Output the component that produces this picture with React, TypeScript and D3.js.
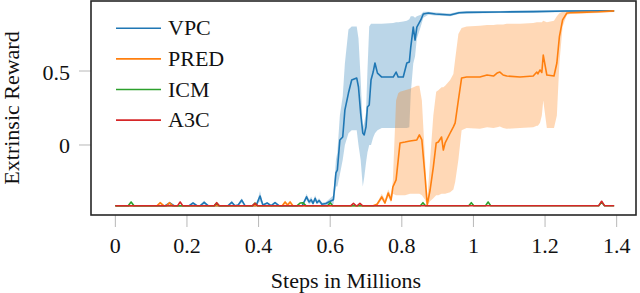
import * as d3 from 'd3';

// columns: step (millions), mean reward, band low, band high
const vpcData: number[][] = [
  [0, -0.41, -0.41, -0.41],
  [0.139, -0.41, -0.41, -0.41],
  [0.152, -0.392, -0.4, -0.385],
  [0.164, -0.41, -0.41, -0.41],
  [0.206, -0.41, -0.41, -0.41],
  [0.217, -0.392, -0.4, -0.385],
  [0.228, -0.41, -0.41, -0.41],
  [0.237, -0.41, -0.41, -0.41],
  [0.248, -0.387, -0.4, -0.375],
  [0.259, -0.41, -0.41, -0.41],
  [0.315, -0.41, -0.41, -0.41],
  [0.325, -0.387, -0.4, -0.375],
  [0.334, -0.41, -0.41, -0.41],
  [0.343, -0.405, -0.41, -0.4],
  [0.353, -0.372, -0.39, -0.36],
  [0.362, -0.41, -0.41, -0.41],
  [0.393, -0.41, -0.41, -0.41],
  [0.404, -0.345, -0.38, -0.31],
  [0.412, -0.405, -0.41, -0.4],
  [0.424, -0.392, -0.4, -0.385],
  [0.435, -0.41, -0.41, -0.41],
  [0.446, -0.39, -0.4, -0.38],
  [0.457, -0.41, -0.41, -0.41],
  [0.522, -0.41, -0.41, -0.41],
  [0.534, -0.35, -0.37, -0.33],
  [0.541, -0.385, -0.4, -0.37],
  [0.547, -0.37, -0.39, -0.35],
  [0.552, -0.395, -0.405, -0.38],
  [0.558, -0.36, -0.38, -0.34],
  [0.563, -0.39, -0.4, -0.375],
  [0.569, -0.375, -0.39, -0.36],
  [0.577, -0.4, -0.41, -0.39],
  [0.588, -0.395, -0.405, -0.385],
  [0.6, -0.38, -0.4, -0.36],
  [0.609, -0.37, -0.4, -0.34],
  [0.616, -0.189, -0.28, -0.1],
  [0.62, -0.169, -0.28, -0.05],
  [0.627, 0.034, -0.2, 0.2],
  [0.635, 0.054, -0.1, 0.33],
  [0.641, 0.236, 0.0, 0.55],
  [0.651, 0.351, 0.08, 0.78],
  [0.66, 0.439, 0.1, 0.8],
  [0.674, 0.453, 0.1, 0.8],
  [0.679, 0.392, 0.0, 0.72],
  [0.685, 0.216, -0.1, 0.45],
  [0.691, 0.081, -0.28, 0.12],
  [0.695, 0.068, -0.22, 0.15],
  [0.7, 0.122, -0.12, 0.22],
  [0.704, 0.257, -0.05, 0.5],
  [0.709, 0.27, 0.0, 0.8],
  [0.714, 0.439, 0.0, 0.82],
  [0.72, 0.493, 0.05, 0.82],
  [0.725, 0.554, 0.08, 0.82],
  [0.732, 0.486, 0.1, 0.82],
  [0.744, 0.459, 0.115, 0.82],
  [0.776, 0.459, 0.115, 0.825],
  [0.784, 0.493, 0.115, 0.83],
  [0.79, 0.459, 0.115, 0.83],
  [0.804, 0.459, 0.115, 0.835],
  [0.814, 0.554, 0.115, 0.84],
  [0.821, 0.561, 0.12, 0.85],
  [0.825, 0.662, 0.35, 0.87],
  [0.832, 0.797, 0.55, 0.87],
  [0.837, 0.709, 0.6, 0.86],
  [0.842, 0.797, 0.72, 0.87],
  [0.853, 0.845, 0.8, 0.88],
  [0.86, 0.885, 0.86, 0.9],
  [0.874, 0.892, 0.88, 0.9],
  [0.894, 0.885, 0.875, 0.895],
  [0.935, 0.878, 0.87, 0.888],
  [0.96, 0.894, 0.885, 0.902],
  [0.981, 0.896, 0.888, 0.904],
  [1.075, 0.899, 0.892, 0.906],
  [1.167, 0.901, 0.894, 0.908],
  [1.26, 0.905, 0.898, 0.911],
  [1.393, 0.906, 0.9, 0.912],
];

const predData: number[][] = [
  [0, -0.41, -0.41, -0.41],
  [0.117, -0.41, -0.41, -0.41],
  [0.125, -0.39, -0.4, -0.38],
  [0.135, -0.41, -0.41, -0.41],
  [0.143, -0.41, -0.41, -0.41],
  [0.151, -0.39, -0.4, -0.38],
  [0.16, -0.41, -0.41, -0.41],
  [0.466, -0.41, -0.41, -0.41],
  [0.474, -0.385, -0.4, -0.375],
  [0.481, -0.405, -0.41, -0.4],
  [0.488, -0.385, -0.4, -0.375],
  [0.496, -0.41, -0.41, -0.41],
  [0.72, -0.41, -0.41, -0.41],
  [0.731, -0.4, -0.41, -0.39],
  [0.744, -0.351, -0.37, -0.33],
  [0.753, -0.392, -0.4, -0.37],
  [0.762, -0.324, -0.35, -0.3],
  [0.77, -0.372, -0.39, -0.34],
  [0.775, -0.284, -0.33, -0.24],
  [0.784, -0.236, -0.34, 0.3],
  [0.79, -0.101, -0.34, 0.35],
  [0.795, 0.014, -0.34, 0.36],
  [0.809, 0.02, -0.34, 0.37],
  [0.823, 0.027, -0.33, 0.38],
  [0.842, 0.034, -0.33, 0.4],
  [0.849, 0.068, -0.33, 0.4],
  [0.856, 0.034, -0.34, 0.3],
  [0.865, -0.216, -0.37, -0.1],
  [0.871, -0.405, -0.41, -0.38],
  [0.879, -0.304, -0.38, -0.1],
  [0.888, -0.149, -0.36, 0.2],
  [0.896, 0.014, -0.34, 0.36],
  [0.902, 0.02, -0.34, 0.37],
  [0.911, 0.054, -0.33, 0.39],
  [0.916, -0.034, -0.33, 0.39],
  [0.921, 0.014, -0.33, 0.4],
  [0.935, 0.081, -0.32, 0.44],
  [0.944, 0.122, -0.3, 0.48],
  [0.949, 0.149, -0.25, 0.58],
  [0.958, 0.304, -0.1, 0.75],
  [0.967, 0.453, 0.1, 0.79],
  [0.981, 0.459, 0.115, 0.8],
  [1.018, 0.459, 0.11, 0.805],
  [1.038, 0.473, 0.12, 0.81],
  [1.056, 0.466, 0.115, 0.81],
  [1.066, 0.486, 0.12, 0.815],
  [1.074, 0.493, 0.125, 0.815],
  [1.083, 0.473, 0.115, 0.815],
  [1.093, 0.466, 0.11, 0.82],
  [1.13, 0.459, 0.115, 0.82],
  [1.167, 0.466, 0.12, 0.825],
  [1.177, 0.493, 0.13, 0.83],
  [1.18, 0.48, 0.13, 0.83],
  [1.186, 0.507, 0.15, 0.83],
  [1.191, 0.49, 0.2, 0.83],
  [1.195, 0.608, 0.3, 0.84],
  [1.205, 0.473, 0.115, 0.83],
  [1.225, 0.466, 0.115, 0.84],
  [1.233, 0.554, 0.2, 0.87],
  [1.24, 0.73, 0.55, 0.89],
  [1.249, 0.845, 0.8, 0.9],
  [1.261, 0.892, 0.88, 0.905],
  [1.27, 0.894, 0.885, 0.905],
  [1.3, 0.896, 0.888, 0.906],
  [1.35, 0.9, 0.892, 0.908],
  [1.393, 0.906, 0.898, 0.912],
];

const icmData: number[][] = [
  [0, -0.41], [0.036, -0.41], [0.044, -0.385], [0.052, -0.41],
  [0.276, -0.41], [0.283, -0.392], [0.29, -0.41],
  [0.383, -0.41], [0.39, -0.392], [0.397, -0.41],
  [0.508, -0.41], [0.516, -0.392], [0.524, -0.39], [0.532, -0.41],
  [0.593, -0.41], [0.6, -0.39], [0.607, -0.41],
  [0.852, -0.41], [0.859, -0.39], [0.866, -0.41],
  [0.987, -0.41], [0.994, -0.39], [1.001, -0.41],
  [1.034, -0.41], [1.041, -0.385], [1.048, -0.41],
  [1.35, -0.41], [1.358, -0.385], [1.366, -0.41],
  [1.393, -0.41],
];

const a3cData: number[][] = [
  [0, -0.41], [0.174, -0.41], [0.181, -0.385], [0.188, -0.41],
  [0.276, -0.41], [0.283, -0.39], [0.29, -0.41],
  [0.383, -0.41], [0.39, -0.395], [0.397, -0.41],
  [0.658, -0.41], [0.665, -0.395], [0.672, -0.41],
  [0.676, -0.41], [0.683, -0.395], [0.69, -0.41],
  [1.35, -0.41], [1.358, -0.38], [1.366, -0.41],
  [1.393, -0.41],
];

const seriesNames = ['VPC', 'PRED', 'ICM', 'A3C'];
const seriesColors = ['#1f77b4', '#ff7f0e', '#2ca02c', '#d62728'];
const xTicks = [0, 0.2, 0.4, 0.6, 0.8, 1, 1.2, 1.4];
const yTicks = [0, 0.5];

const W = 640;
const H = 293;
const left = 91, right = 636, top = 1, bottom = 215;
const serif = 'Liberation Serif';

export default function App() {
  const x = d3.scaleLinear().domain([-0.068, 1.454]).range([left, right]);
  const y = d3.scaleLinear().domain([-0.473, 0.973]).range([bottom, top]);

  const line = d3.line<number[]>().x((d) => x(d[0])).y((d) => y(d[1]));
  const band = d3.area<number[]>()
    .x((d) => x(d[0]))
    .y0((d) => y(d[2]))
    .y1((d) => y(d[3]));

  const all = [vpcData, predData, icmData, a3cData];

  return (
    <div style={{ position: 'absolute', left: 0, top: 0 }}>
      <svg width={W} height={H} style={{ display: 'block' }}>
        <defs>
          <clipPath id="plot">
            <rect x={left} y={top} width={right - left} height={bottom - top} />
          </clipPath>
        </defs>

        {/* ticks */}
        {xTicks.map((t) => (
          <g key={'x' + t}>
            <line x1={x(t)} x2={x(t)} y1={bottom} y2={bottom + 12} stroke="#b8b8b8" strokeWidth={1} />
            <text x={x(t)} y={253} fontFamily={serif} fontSize={22} textAnchor="middle" fill="#111">
              {String(t)}
            </text>
          </g>
        ))}
        {yTicks.map((t) => (
          <g key={'y' + t}>
            <line x1={left - 12} x2={left} y1={y(t)} y2={y(t)} stroke="#b8b8b8" strokeWidth={1} />
            <text x={70} y={y(t) + 8.5} fontFamily={serif} fontSize={22} textAnchor="end" fill="#111">
              {String(t)}
            </text>
          </g>
        ))}

        <g clipPath="url(#plot)">
          {all.slice(0, 2).map((data, i) => (
            <path key={'b' + i} d={band(data) ?? ''} fill={seriesColors[i]} fillOpacity={0.3} stroke="none" />
          ))}
          {all.map((data, i) => (
            <path
              key={'l' + i}
              d={line(data) ?? ''}
              fill="none"
              stroke={seriesColors[i]}
              strokeWidth={1.6}
              strokeLinejoin="round"
            />
          ))}
        </g>

        <rect x={left} y={top} width={right - left} height={bottom - top} fill="none" stroke="#262626" strokeWidth={1.6} />

        {/* legend */}
        {seriesNames.map((name, i) => {
          const ly = 28.3 + i * 30.6;
          return (
            <g key={name}>
              <line x1={116} x2={161} y1={ly} y2={ly} stroke={seriesColors[i]} strokeWidth={1.6} />
              <text x={168} y={ly + 7} fontFamily={serif} fontSize={22} fill="#111">
                {name}
              </text>
            </g>
          );
        })}

        <text x={346} y={288} fontFamily={serif} fontSize={22} textAnchor="middle" fill="#111">
          Steps in Millions
        </text>
        <text
          transform={`translate(19, ${(top + bottom) / 2}) rotate(-90)`}
          fontFamily={serif}
          fontSize={22}
          textAnchor="middle"
          fill="#111"
        >
          Extrinsic Reward
        </text>
      </svg>
    </div>
  );
}
